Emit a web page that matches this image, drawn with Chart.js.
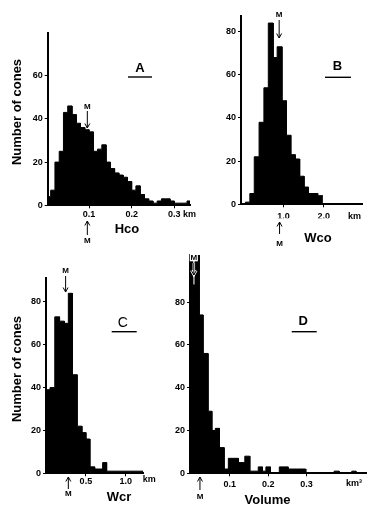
<!DOCTYPE html>
<html>
<head>
<meta charset="utf-8">
<script src="https://cdn.jsdelivr.net/npm/chart.js@4.4.0/dist/chart.umd.min.js"></script>
<style>
    html, body { margin: 0; padding: 0; background: #fff; }
    #wrap { position: relative; width: 368px; height: 508px; overflow: hidden; }
    #wrap canvas { position: absolute; left: 0; top: 0; }
</style>
</head>
<body>
<div id="wrap">
    <canvas id="chartA" width="368" height="508"></canvas>
    <canvas id="chartB" width="368" height="508"></canvas>
    <canvas id="chartC" width="368" height="508"></canvas>
    <canvas id="chartD" width="368" height="508"></canvas>
</div>
<script>
// A - cone height Hco (km): bin edges and counts
const hcoEdges = [0.003, 0.01, 0.02, 0.03, 0.04, 0.05, 0.06, 0.07, 0.08, 0.09, 0.10, 0.11, 0.12,
    0.13, 0.14, 0.15, 0.16, 0.17, 0.18, 0.19, 0.20, 0.21, 0.22, 0.23, 0.24, 0.25, 0.26, 0.27,
    0.28, 0.29, 0.30, 0.31, 0.32, 0.33, 0.337];
const hcoCounts = [4, 7, 20, 25, 43, 46, 42, 38, 36, 35, 34, 25, 26, 28, 20, 17, 15, 14, 13, 11,
    7, 9, 5, 3, 2, 1, 2, 3, 3, 2, 1, 1, 1, 2];
const hcoTicks = [0.1, 0.2, 0.3];
const hcoTickLabels = ['0.1', '0.2', '0.3'];

// B - basal width Wco (km)
const wcoEdges = [-0.06, 0.05, 0.16, 0.27, 0.39, 0.51, 0.62, 0.74, 0.84, 0.96, 1.07, 1.18, 1.29,
    1.40, 1.51, 1.62, 1.73, 1.85, 1.98];
const wcoCounts = [0, 1, 5, 22, 38, 54, 84, 68, 73, 48, 32, 23, 21, 13, 8, 5, 5, 4];
const wcoTicks = [1.0, 2.0];
const wcoTickLabels = ['1.0', '2.0'];

// C - crater width Wcr (km)
const wcrEdges = [0, 0.05, 0.11, 0.17, 0.23, 0.28, 0.33, 0.39, 0.45, 0.50, 0.55, 0.61, 0.66,
    0.71, 0.76, 1.22];
const wcrCounts = [39, 40, 73, 71, 70, 84, 46, 22, 19, 16, 3, 2, 2, 5, 1];
const wcrTicks = [0.5, 1.0];
const wcrTickLabels = ['0.5', '1.0'];

// D - volume (km3)
const volEdges = [-0.004, 0.003, 0.009, 0.02, 0.03, 0.043, 0.053, 0.062, 0.073, 0.085, 0.096,
    0.122, 0.139, 0.152, 0.174, 0.185, 0.194, 0.206, 0.229, 0.252, 0.274, 0.298, 0.372, 0.385,
    0.418, 0.429, 0.457];
const volCounts = [102, 88, 102, 74, 56, 29, 20, 21, 12, 2, 7, 5, 8, 1, 3, 1, 3, 0, 3, 2, 2, 0,
    1, 0, 1, 0];
const volTicks = [0.1, 0.2, 0.3];
const volTickLabels = ['0.1', '0.2', '0.3'];

const FAMILY = '"Liberation Sans", Arial, Helvetica, sans-serif';
const Y_W = 18;  // width kept for y tick labels
const X_H = 14;  // height kept for x tick labels

function arrow(ctx, x, yFrom, yTo) {
    const dir = yTo > yFrom ? 1 : -1;
    ctx.beginPath();
    ctx.moveTo(x, yFrom);
    ctx.lineTo(x, yTo);
    ctx.moveTo(x - 2.5, yTo - dir * 4.5);
    ctx.lineTo(x, yTo);
    ctx.lineTo(x + 2.5, yTo - dir * 4.5);
    ctx.stroke();
}

function notesPlugin(n) {
    return {
        id: 'notes',
        afterDraw(chart) {
            const ctx = chart.ctx;
            const xs = chart.scales.x;
            ctx.save();
            ctx.fillStyle = '#000';
            ctx.strokeStyle = '#000';
            ctx.textAlign = 'center';
            ctx.textBaseline = 'middle';

            // panel letter with rule under it
            ctx.font = n.letterFont + ' ' + FAMILY;
            ctx.fillText(n.letter, n.letterAt[0], n.letterAt[1]);
            ctx.lineWidth = 1.4;
            ctx.beginPath();
            ctx.moveTo(n.rule[0], n.rule[2]);
            ctx.lineTo(n.rule[1], n.rule[2]);
            ctx.stroke();

            // axis name and unit
            ctx.font = 'bold 13px ' + FAMILY;
            ctx.fillText(n.name, n.nameAt[0], n.nameAt[1]);
            ctx.font = 'bold 9px ' + FAMILY;
            ctx.fillText(n.unit, n.unitAt[0], n.unitAt[1]);

            // y title
            if (n.yTitleAt) {
                ctx.save();
                ctx.translate(n.yTitleAt[0], n.yTitleAt[1]);
                ctx.rotate(-Math.PI / 2);
                ctx.font = 'bold 13px ' + FAMILY;
                ctx.fillText('Number of cones', 0, 0);
                ctx.restore();
            }

            // median markers
            ctx.lineWidth = 1;
            ctx.font = 'bold 8px ' + FAMILY;
            const xt = xs.getPixelForValue(n.medianTop);
            if (n.halo) {
                ctx.strokeStyle = '#fff';
                ctx.lineWidth = 2.5;
                ctx.strokeText('M', xt, n.topM);
                arrow(ctx, xt, n.topArrow[0], n.topArrow[1]);
                ctx.strokeStyle = '#000';
                ctx.lineWidth = 1;
            }
            ctx.fillText('M', xt, n.topM);
            arrow(ctx, xt, n.topArrow[0], n.topArrow[1]);
            const xb = xs.getPixelForValue(n.medianBottom);
            arrow(ctx, xb, n.bottomArrow[0], n.bottomArrow[1]);
            ctx.fillText('M', xb, n.bottomM);
            ctx.restore();
        }
    };
}

function histogram(id, edges, counts, xTicks, xTickLabels, yTicks, p) {
    const points = [];
    counts.forEach((c, i) => {
        points.push({ x: edges[i], y: c });
        points.push({ x: edges[i + 1], y: c });
    });
    const tickFont = { family: FAMILY, size: 9, weight: 'bold' };
    return new Chart(document.getElementById(id), {
        type: 'line',
        data: {
            datasets: [{
                data: points,
                borderColor: '#000',
                borderWidth: 1,
                backgroundColor: '#000',
                fill: 'origin',
                pointRadius: 0,
                tension: 0
            }]
        },
        options: {
            responsive: false,
            animation: false,
            events: [],
            layout: {
                padding: {
                    left: p.box.left - Y_W,
                    top: p.box.top,
                    right: 368 - p.box.right,
                    bottom: 508 - p.box.bottom - X_H
                }
            },
            plugins: { legend: { display: false }, tooltip: { enabled: false } },
            scales: {
                x: {
                    type: 'linear',
                    min: p.xMin,
                    max: p.xMax,
                    afterFit: s => { s.height = X_H; },
                    afterBuildTicks: s => { s.ticks = xTicks.map(v => ({ value: v })); },
                    ticks: {
                        callback: (v, i) => xTickLabels[i],
                        font: tickFont, color: '#000', padding: p.xTickPad,
                        maxRotation: 0, autoSkip: false
                    },
                    grid: { drawOnChartArea: false, tickLength: 3, color: '#000' },
                    border: { color: '#000', width: 2 }
                },
                y: {
                    min: 0,
                    max: p.yMax,
                    afterFit: s => { s.width = Y_W; },
                    afterBuildTicks: s => { s.ticks = yTicks.map(v => ({ value: v })); },
                    ticks: { font: tickFont, color: '#000', padding: 2, autoSkip: false },
                    grid: { drawOnChartArea: false, tickLength: 3, color: '#000' },
                    border: { color: '#000', width: 2 }
                }
            }
        },
        plugins: [notesPlugin(p.notes)]
    });
}

histogram('chartA', hcoEdges, hcoCounts, hcoTicks, hcoTickLabels, [0, 20, 40, 60], {
    box: { left: 47.7, top: 32.5, right: 190, bottom: 205.3 },
    xMin: 0.003, xMax: 0.337, yMax: 80, xTickPad: 1.3,
    notes: {
        letter: 'A', letterFont: 'bold 13px', letterAt: [140, 68.5], rule: [128, 152, 77],
        name: 'Hco', nameAt: [127, 229], unit: 'km', unitAt: [189.5, 215],
        yTitleAt: [17.5, 112],
        medianTop: 0.096, topM: 106.5, topArrow: [111, 128],
        medianBottom: 0.096, bottomArrow: [235, 221], bottomM: 241
    }
});

histogram('chartB', wcoEdges, wcoCounts, wcoTicks, wcoTickLabels, [0, 20, 40, 60, 80], {
    box: { left: 241, top: 15.7, right: 362.7, bottom: 204.3 },
    xMin: -0.06, xMax: 2.97, yMax: 87.4, xTickPad: 4,
    notes: {
        letter: 'B', letterFont: 'bold 13px', letterAt: [337.5, 66.5], rule: [325, 351, 77.3],
        name: 'Wco', nameAt: [318, 238.5], unit: 'km', unitAt: [354.5, 216.7],
        medianTop: 0.89, topM: 15, topArrow: [20, 38],
        medianBottom: 0.9, bottomArrow: [234, 222], bottomM: 243.5
    }
});

histogram('chartC', wcrEdges, wcrCounts, wcrTicks, wcrTickLabels, [0, 20, 40, 60, 80], {
    box: { left: 46, top: 278.3, right: 143.3, bottom: 473.3 },
    xMin: 0, xMax: 1.22, yMax: 91, xTickPad: 0,
    notes: {
        letter: 'C', letterFont: '14px', letterAt: [122.7, 322.7], rule: [111.7, 136.7, 331.7],
        name: 'Wcr', nameAt: [119, 497], unit: 'km', unitAt: [149.3, 480],
        yTitleAt: [17.5, 369],
        medianTop: 0.246, topM: 270.7, topArrow: [276, 292],
        medianBottom: 0.28, bottomArrow: [489, 477], bottomM: 494
    }
});

histogram('chartD', volEdges, volCounts, volTicks, volTickLabels, [0, 20, 40, 60, 80], {
    box: { left: 190, top: 255, right: 366.7, bottom: 473.3 },
    xMin: -0.004, xMax: 0.457, yMax: 102, xTickPad: 3.3,
    notes: {
        letter: 'D', letterFont: 'bold 13px', letterAt: [303.3, 321.7], rule: [291.7, 316.7, 331.7],
        name: 'Volume', nameAt: [267.5, 500], unit: 'km³', unitAt: [354, 484],
        halo: true,
        medianTop: 0.006, topM: 258, topArrow: [263, 275],
        medianBottom: 0.022, bottomArrow: [490, 477], bottomM: 497
    }
});
</script>
</body>
</html>
